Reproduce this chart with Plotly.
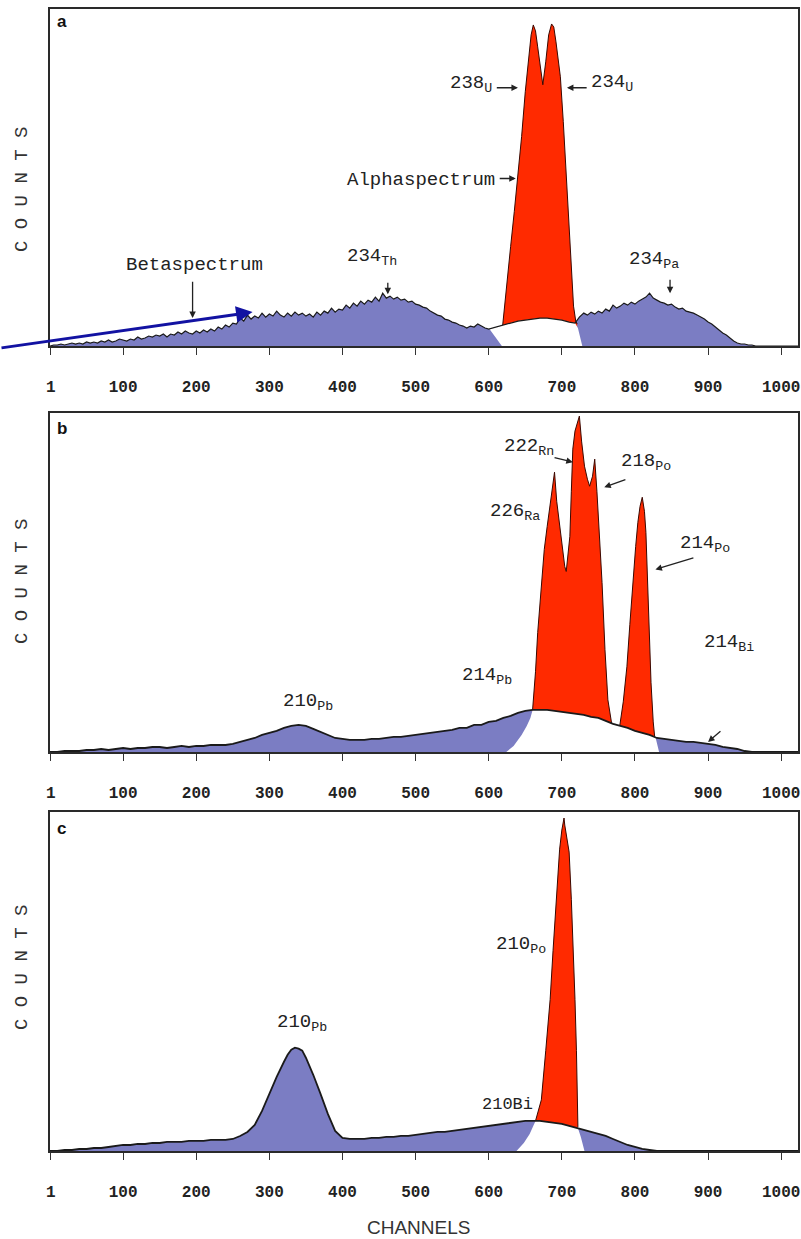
import plotly.graph_objects as go

# ---------------- data (counts, arbitrary units) ----------------
TICK_VALS = [1, 100, 200, 300, 400, 500, 600, 700, 800, 900, 1000]
TICK_TEXT = ["1", "100", "200", "300", "400", "500", "600", "700", "800", "900", "1000"]

# panel a : uranium standard
A_BETA_CH = [0, 5, 10, 15, 20, 25, 30, 35, 40, 45, 50, 55, 60, 65, 70, 75, 80, 85, 90, 95,
             100, 105, 110, 115, 120, 125, 130, 135, 140, 145, 150, 155, 160, 165, 170, 175, 180, 185, 190, 195,
             200, 205, 210, 215, 220, 225, 230, 235, 240, 245, 250, 255, 260, 265, 270, 275, 280, 285, 290, 295,
             300, 305, 310, 315, 320, 325, 330, 335, 340, 345, 350, 355, 360, 365, 370, 375, 380, 385, 390, 395,
             400, 405, 410, 415, 420, 425, 430, 435, 440, 445, 450, 455, 460, 465, 470, 475, 480, 485, 490, 495,
             500, 505, 510, 515, 520, 525, 530, 535, 540, 545, 550, 555, 560, 565, 570, 575, 580, 585, 590, 595,
             600, 605, 610, 620, 630, 640, 650, 660, 670, 680, 690, 700, 710, 718, 724, 730,
             735, 740, 745, 750, 755, 760, 765, 770, 775, 780, 785, 790, 795, 800, 805, 810, 815, 820, 825, 830,
             835, 840, 845, 850, 855, 860, 865, 870, 875, 880, 885, 890, 895, 900, 905, 910, 915, 920, 925, 930,
             935, 940, 945, 950, 955, 960, 965, 975, 990, 1010, 1023]
A_BETA = [0, 1, 1, 2, 1, 2, 3, 2, 3, 2, 4, 3, 4, 3, 5, 4, 6, 4, 5, 7,
          6, 5, 7, 6, 9, 7, 8, 10, 9, 11, 10, 12, 9, 12, 11, 14, 12, 15, 13, 12,
          15, 13, 16, 14, 17, 15, 19, 17, 21, 19, 23, 22, 28, 25, 31, 27, 30, 28, 33, 29,
          32, 30, 35, 31, 29, 33, 30, 34, 31, 33, 30, 32, 29, 34, 31, 35, 33, 38, 34, 37,
          36, 41, 38, 43, 40, 45, 42, 46, 44, 49, 45, 53, 48, 50, 47, 49, 46, 47, 44, 45,
          42, 41, 39, 38, 35, 33, 31, 30, 27, 26, 24, 23, 21, 20, 18, 20, 19, 22, 20, 18,
          17, 18, 19, 21, 23, 25, 26, 27, 28, 28, 27, 26, 24, 23, 29, 33,
          31, 34, 32, 35, 33, 37, 35, 41, 38, 40, 43, 41, 44, 42, 45, 47, 49, 53, 48, 46,
          44, 43, 41, 42, 39, 37, 38, 35, 34, 33, 31, 29, 27, 24, 22, 19, 16, 13, 11, 8,
          5, 3, 2, 2, 1, 1, 0, 0, 0, 0, 0]
A_ALPHA_CH = [619, 622, 625, 630, 635, 640, 645, 650, 655, 658, 661, 664, 667, 670, 674, 678,
              682, 686, 689, 692, 695, 698, 702, 706, 710, 713, 716, 719, 721]
A_ALPHA = [20, 40, 60, 100, 135, 170, 210, 255, 295, 312, 322, 316, 300, 282, 262, 285,
           312, 323, 320, 305, 290, 270, 225, 170, 110, 70, 40, 25, 22]
A_GAP_CH = [618, 601, 605, 610, 620, 630, 640, 650, 660, 670, 680, 690, 700, 710, 718, 722, 728]
A_GAP = [0, 17, 18, 19, 21, 23, 25, 26, 27, 28, 28, 27, 26, 24, 23, 18, 0]

# panel b : radium
B_BETA_CH = [0, 10, 20, 30, 40, 50, 60, 70, 80, 90, 100, 110, 120, 130, 140, 150, 160, 170, 180, 190,
             200, 210, 220, 230, 240, 250, 260, 270, 280, 290, 300, 310, 320, 330, 340, 350, 360, 370, 380, 390,
             400, 410, 420, 430, 440, 450, 460, 470, 480, 490, 500, 510, 520, 530, 540, 550, 560, 570, 580, 590,
             600, 610, 620, 630, 640, 650, 660, 670, 680, 690, 700, 710, 720, 730, 740, 750, 760, 770, 780, 790,
             800, 810, 820, 830, 840, 850, 860, 870, 880, 890, 900, 910, 920, 930, 940, 950, 960, 980, 1000, 1023]
B_BETA = [0, 0, 1, 1, 1, 2, 2, 3, 2, 3, 4, 3, 4, 4, 5, 5, 4, 5, 6, 5,
          6, 6, 7, 7, 7, 8, 10, 12, 14, 17, 19, 21, 24, 26, 27, 26, 23, 20, 17, 14,
          13, 12, 12, 12, 13, 13, 14, 15, 15, 16, 17, 18, 19, 20, 21, 22, 24, 24, 27, 27,
          30, 31, 34, 36, 39, 41, 42, 42, 42, 41, 40, 39, 38, 37, 35, 34, 31, 28, 26, 24,
          21, 19, 17, 14, 13, 12, 11, 10, 10, 9, 8, 7, 5, 4, 3, 1, 0, 0, 0, 0]
B_ALPHA_CH = [660, 664, 667, 672, 676, 680, 683, 687, 690, 693, 697, 701, 704, 706, 708, 711, 713, 715,
              718, 721, 724, 727, 731, 735, 738, 742, 745, 748, 750, 755, 759, 763, 768, 772, 776, 779,
              784, 789, 793, 797, 801, 804, 807, 810, 813, 815, 818, 820, 822, 825, 827]
B_ALPHA = [42, 80, 119, 165, 202, 225, 242, 262, 279, 250, 225, 200, 185, 180, 195, 215, 260, 302,
           320, 328, 335, 310, 285, 272, 265, 275, 292, 260, 235, 169, 102, 52, 29, 27, 26, 25,
           50, 85, 127, 169, 205, 229, 245, 254, 240, 219, 152, 110, 69, 30, 15]
B_GAP_CH = [624, 634, 645, 652, 657, 660, 670, 680, 690, 700, 710, 720, 730, 740, 750, 760, 770, 780,
            790, 800, 810, 820, 828, 833]
B_GAP = [0, 6, 17, 26, 34, 42, 42, 42, 41, 40, 39, 38, 37, 35, 34, 31, 28, 26,
         24, 21, 19, 17, 15, 0]

# panel c : lead-210
C_BETA_CH = [0, 10, 20, 30, 40, 50, 60, 70, 80, 90, 100, 110, 120, 130, 140, 150, 160, 170, 180, 190,
             200, 210, 220, 230, 240, 250, 260, 270, 280, 290, 300, 310, 320, 325, 330, 335, 340, 345, 350, 355,
             360, 370, 380, 390, 400, 410, 420, 430, 440, 450, 460, 470, 480, 490, 500, 510, 520, 530, 540, 550,
             560, 570, 580, 590, 600, 610, 620, 630, 640, 650, 660, 670, 680, 690, 700, 710, 720, 730, 740, 750,
             760, 770, 780, 790, 800, 810, 820, 830, 850, 900, 950, 1000, 1023]
C_BETA = [0, 0, 1, 1, 2, 2, 3, 3, 4, 5, 6, 6, 7, 7, 8, 8, 9, 9, 9, 10,
          10, 10, 11, 11, 11, 12, 15, 19, 26, 40, 57, 74, 89, 96, 101, 103, 102, 100, 93, 85,
          76, 57, 37, 20, 13, 12, 12, 12, 13, 13, 14, 14, 15, 15, 16, 17, 18, 19, 19, 20,
          21, 22, 23, 24, 25, 26, 27, 28, 29, 30, 30, 30, 29, 28, 27, 25, 23, 21, 19, 17,
          15, 12, 9, 6, 4, 2, 1, 0, 0, 0, 0, 0, 0]
C_ALPHA_CH = [664, 668, 672, 678, 684, 688, 693, 697, 700, 702, 703, 704, 706, 708, 710, 713, 716, 718,
              720, 721, 722]
C_ALPHA = [30, 40, 51, 100, 151, 200, 251, 301, 320, 328, 332, 325, 315, 308, 298, 251, 200, 151,
           100, 51, 24]
C_GAP_CH = [638, 648, 656, 661, 664, 670, 680, 690, 700, 710, 720, 722, 726, 731]
C_GAP = [0, 8, 17, 25, 30, 30, 29, 28, 27, 25, 23, 23, 14, 0]

# ---------------- style / geometry ----------------
W, H = 801, 1239
BLUE = "#7b7dc3"
RED = "#ff2a00"
INK = "#1a1a1a"
MONO = "Liberation Mono, Courier New, monospace"
SANS = "Liberation Sans, Arial, sans-serif"
PANEL_PX = [(9, 346), (413, 752), (812, 1151)]  # screen pixels (top, bottom)
X_LEFT, X_RIGHT = 50, 798
YMAX = 338
LINE_W = [1.2, 1.8, 1.8]


def fx(p):
    return p / W


def fy(p):
    return 1 - p / H


panels = [
    (A_BETA_CH, A_BETA, A_ALPHA_CH, A_ALPHA, A_GAP_CH, A_GAP),
    (B_BETA_CH, B_BETA, B_ALPHA_CH, B_ALPHA, B_GAP_CH, B_GAP),
    (C_BETA_CH, C_BETA, C_ALPHA_CH, C_ALPHA, C_GAP_CH, C_GAP),
]

fig = go.Figure()
for i, (bx, by, ax_, ay_, gx, gy) in enumerate(panels):
    xa = "x" if i == 0 else f"x{i+1}"
    ya = "y" if i == 0 else f"y{i+1}"
    fig.add_trace(go.Scatter(x=bx, y=by, xaxis=xa, yaxis=ya, mode="lines", fill="tozeroy",
                             fillcolor=BLUE, line=dict(width=0, color=BLUE), hoverinfo="skip"))
    fig.add_trace(go.Scatter(x=ax_, y=ay_, xaxis=xa, yaxis=ya, mode="lines", fill="tozeroy",
                             fillcolor=RED, line=dict(width=1, color="#3a0800"), hoverinfo="skip"))
    fig.add_trace(go.Scatter(x=gx, y=gy, xaxis=xa, yaxis=ya, mode="lines", fill="toself",
                             fillcolor="white", line=dict(width=0, color="white"), hoverinfo="skip"))
    fig.add_trace(go.Scatter(x=bx, y=by, xaxis=xa, yaxis=ya, mode="lines",
                             line=dict(width=LINE_W[i], color=INK), hoverinfo="skip"))

layout = dict(width=W, height=H, margin=dict(l=0, r=0, t=0, b=0), autosize=False,
              paper_bgcolor="white", plot_bgcolor="white", showlegend=False)
for i, (top, bot) in enumerate(PANEL_PX):
    sx = "" if i == 0 else str(i + 1)
    layout["xaxis" + sx] = dict(
        domain=[fx(X_LEFT), fx(X_RIGHT)], range=[0, 1023], anchor="y" + sx,
        tickvals=TICK_VALS, ticktext=TICK_TEXT, ticks="outside", ticklen=7, tickwidth=1.4,
        tickcolor="#333", ticklabelstandoff=18, ticklabeloverflow="allow",
        tickfont=dict(family=MONO, size=16, color="#222", weight="bold"),
        showline=True, linecolor="#2a2a2a", linewidth=1.6, mirror=True,
        showgrid=False, zeroline=False, automargin=False)
    layout["yaxis" + sx] = dict(
        domain=[fy(bot), fy(top)], range=[0, YMAX], anchor="x" + sx,
        showticklabels=False, ticks="", showline=True, linecolor="#2a2a2a", linewidth=1.6,
        mirror=True, showgrid=False, zeroline=False, automargin=False)
fig.update_layout(**layout)

ann = []


def label(text, x, y, ref, size=19):
    ann.append(dict(text=text, x=x, y=y, xref="x" + ref, yref="y" + ref, showarrow=False,
                    xanchor="center", yanchor="middle", font=dict(family=MONO, size=size, color="#222")))


def arrow(ref, x0, y0, x1, y1):
    ann.append(dict(text="", x=x1, y=y1, ax=x0, ay=y0, xref="x" + ref, yref="y" + ref,
                    axref="x" + ref, ayref="y" + ref, showarrow=True, arrowhead=2, arrowsize=1,
                    arrowwidth=1.3, arrowcolor="#222", standoff=0))


# panel a
label("Betaspectrum", 197, 81, "")
arrow("", 195, 66, 195, 28)
label("234<sub>Th</sub>", 440, 89, "")
arrow("", 462, 65, 462, 52)
label("Alphaspectrum", 507, 166, "")
arrow("", 613, 168, 637, 168)
label("238<sub>U</sub>", 576, 263, "")
arrow("", 609, 259, 640, 259)
label("234<sub>U</sub>", 769, 264, "")
arrow("", 736, 259, 707, 259)
label("234<sub>Pa</sub>", 826, 86, "")
arrow("", 848, 68, 848, 53)
ann.append(dict(text="", x=277, y=34, xref="x", yref="y", ax=-253, ay=36, axref="pixel", ayref="pixel",
                showarrow=True, arrowhead=2, arrowsize=1.1, arrowwidth=3, arrowcolor="#1212a2", standoff=0))
# panel b
label("210<sub>Pb</sub>", 353, 50, "2")
label("214<sub>Pb</sub>", 598, 76, "2")
label("226<sub>Ra</sub>", 636, 239, "2")
label("222<sub>Rn</sub>", 655, 304, "2")
arrow("2", 688, 294, 715, 289)
label("218<sub>Po</sub>", 815, 289, "2")
arrow("2", 789, 272, 758, 264)
label("214<sub>Po</sub>", 896, 207, "2")
arrow("2", 882, 194, 828, 182)
label("214<sub>Bi</sub>", 928, 109, "2")
arrow("2", 919, 22, 900, 10)
# panel c
label("210<sub>Pb</sub>", 345, 128, "3")
label("210<sub>Po</sub>", 644, 205, "3")
label("210Bi", 626, 46, "3", size=17)

for txt, (cx, cy) in zip(["a", "b", "c"], [(62, 22), (62, 428), (62, 828)]):
    ann.append(dict(text="<b>" + txt + "</b>", x=fx(cx), y=fy(cy), xref="paper", yref="paper",
                    showarrow=False, xanchor="center", yanchor="middle",
                    font=dict(family=SANS, size=17, color="#111")))
for cy in [190, 582, 968]:
    ann.append(dict(text="C O U N T S", x=fx(22), y=fy(cy), xref="paper", yref="paper",
                    showarrow=False, textangle=-90, xanchor="center", yanchor="middle",
                    font=dict(family=MONO, size=19, color="#333")))
ann.append(dict(text="CHANNELS", x=fx(418), y=fy(1227), xref="paper", yref="paper", showarrow=False,
                xanchor="center", yanchor="middle", font=dict(family=SANS, size=19, color="#333")))

fig.update_layout(annotations=ann)
# remove the browser's default 8px page margin so the 801x1239 figure fills the window exactly
fig.write_html("out.html", config={"displayModeBar": False},
               post_script="document.body.style.margin='0';document.body.style.overflow='hidden';")
